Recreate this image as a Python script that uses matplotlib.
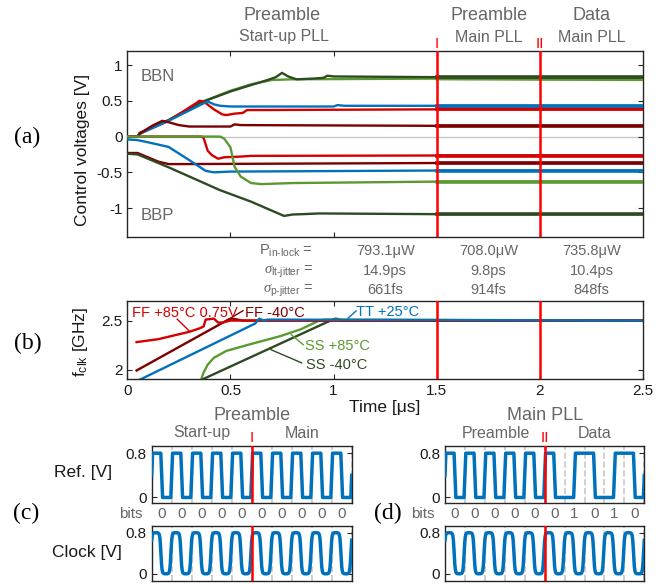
import numpy as np
import matplotlib
matplotlib.use("Agg")
import matplotlib.pyplot as plt

plt.rcParams['font.family'] = ['Liberation Sans', 'DejaVu Sans']
plt.rcParams['mathtext.fontset'] = 'custom'
plt.rcParams['mathtext.rm'] = 'Liberation Sans'
plt.rcParams['mathtext.it'] = 'Liberation Serif:italic'
plt.rcParams['axes.unicode_minus'] = False

W, H = 670, 584

# ---- data ------------------------------------------------------------------
# (a) control voltages, start-up PLL phase (t in us, V); flat levels after 1.5 us
bbn_dgreen_t = [0, 0.05, 0.06, 0.2, 0.35, 0.5, 0.6, 0.68, 0.72, 0.75, 0.78, 0.82, 0.9, 0.95, 0.97, 1.0, 1.5, 2.5]
bbn_dgreen_v = [0, 0, 0.05, 0.23, 0.47, 0.63, 0.72, 0.79, 0.83, 0.89, 0.84, 0.80, 0.81, 0.82, 0.85, 0.84, 0.83, 0.83]
bbn_green_t = [0, 0.05, 0.06, 0.2, 0.35, 0.5, 0.6, 0.7, 0.8, 1.5, 2.5]
bbn_green_v = [0, 0, 0.05, 0.23, 0.47, 0.64, 0.73, 0.79, 0.80, 0.81, 0.80]
bbn_blue_t = [0, 0.05, 0.06, 0.2, 0.36, 0.39, 0.42, 0.45, 0.5, 1.0, 1.02, 1.05, 1.5, 2.5]
bbn_blue_v = [0, 0, 0.04, 0.22, 0.45, 0.49, 0.45, 0.43, 0.42, 0.42, 0.44, 0.43, 0.43, 0.43]
bbn_red_t = [0, 0.05, 0.06, 0.2, 0.33, 0.35, 0.37, 0.42, 0.46, 0.48, 0.52, 0.56, 0.58, 1.5, 2.5]
bbn_red_v = [0, 0, 0.04, 0.22, 0.46, 0.50, 0.49, 0.38, 0.31, 0.30, 0.32, 0.33, 0.37, 0.38, 0.38]
bbn_dred_t = [0, 0.05, 0.06, 0.12, 0.17, 0.2, 0.25, 0.3, 0.5, 0.52, 0.55, 1.5, 2.5]
bbn_dred_v = [0, 0, 0.04, 0.15, 0.22, 0.2, 0.16, 0.14, 0.14, 0.17, 0.16, 0.15, 0.15]

bbp_red_t = [0, 0.36, 0.37, 0.39, 0.41, 0.44, 0.47, 0.55, 0.60, 1.5, 2.5]
bbp_red_v = [0, 0, -0.02, -0.2, -0.26, -0.31, -0.29, -0.28, -0.27, -0.265, -0.265]
bbp_dred_t = [0, 0.05, 0.1, 0.15, 0.2, 0.25, 1.5, 2.5]
bbp_dred_v = [-0.23, -0.23, -0.29, -0.35, -0.385, -0.385, -0.37, -0.37]
bbp_blue_t = [0, 0.05, 0.1, 0.2, 0.29, 0.38, 0.42, 0.5, 1.5, 2.5]
bbp_blue_v = [-0.04, -0.05, -0.08, -0.145, -0.31, -0.48, -0.50, -0.49, -0.475, -0.475]
bbp_green_t = [0, 0.45, 0.47, 0.50, 0.52, 0.55, 0.60, 0.65, 0.8, 1.5, 2.5]
bbp_green_v = [0, 0, -0.03, -0.15, -0.42, -0.56, -0.65, -0.665, -0.65, -0.63, -0.63]
bbp_dgreen_t = [0, 0.05, 0.2, 0.45, 0.6, 0.72, 0.76, 0.8, 0.85, 0.93, 1.5, 2.5]
bbp_dgreen_v = [-0.24, -0.25, -0.43, -0.75, -0.91, -1.06, -1.11, -1.09, -1.085, -1.075, -1.085, -1.085]

# (b) clock frequency (GHz) per corner
ff85_t = [0.045, 0.15, 0.25, 0.30, 0.35, 0.37, 0.38, 0.42, 0.44, 0.46, 0.50, 2.5]
ff85_f = [2.28, 2.31, 2.36, 2.385, 2.42, 2.44, 2.51, 2.52, 2.48, 2.48, 2.50, 2.50]
ff40_t = [0.045, 0.49, 0.51, 0.56, 2.5]
ff40_f = [1.99, 2.51, 2.52, 2.50, 2.50]
tt25_t = [0.05, 0.62, 0.64, 0.66, 0.68, 2.5]
tt25_f = [1.885, 2.47, 2.52, 2.50, 2.51, 2.50]
ss85_t = [0.355, 0.37, 0.39, 0.42, 0.48, 0.59, 0.74, 0.84, 0.93, 0.96, 2.5]
ss85_f = [1.88, 1.97, 2.05, 2.12, 2.19, 2.255, 2.34, 2.41, 2.50, 2.51, 2.50]
ss40_t = [0.36, 0.995, 1.01, 1.05, 2.5]
ss40_f = [1.895, 2.51, 2.52, 2.50, 2.50]

# table between (a) and (b)
phase_centers = [1.25, 1.75, 2.25]
p_inlock = ['793.1\u03bcW', '708.0\u03bcW', '735.8\u03bcW']
lt_jitter = ['14.9ps', '9.8ps', '10.4ps']
p_jitter = ['661fs', '914fs', '848fs']

# (c), (d) bits
bits_c = [0, 0, 0, 0, 0, 0, 0, 0, 0, 0]
bits_d = [0, 0, 0, 0, 0, 0, 1, 0, 1, 0]

C_BLUE = '#0072BD'
C_RED = '#D40000'
C_DRED = '#7D0000'
C_GREEN = '#5B9A32'
C_DGREEN = '#2E4A22'
GRAY = '#666666'
SPINE = '#262626'

fig = plt.figure(figsize=(W / 100, H / 100), dpi=100)


def px_axes(l, t, r, b):
    return fig.add_axes([l / W, 1 - b / H, (r - l) / W, (b - t) / H])


def ftext(x, y, s, **kw):
    kw.setdefault('ha', 'center')
    kw.setdefault('va', 'center')
    return fig.text(x / W, 1 - y / H, s, **kw)


def style(ax):
    for sp in ax.spines.values():
        sp.set_color(SPINE)
        sp.set_linewidth(1.0)
    ax.tick_params(direction='in', top=True, right=True, length=3.5, width=0.8,
                   colors=SPINE, labelsize=11, labelcolor='#1a1a1a')


# ---- (a) -------------------------------------------------------------------
ax_a = px_axes(127.3, 50.7, 643, 236.7)
style(ax_a)
ax_a.axhline(0, color='#c8c8c8', lw=1.0, zorder=1)
curves_a = [
    (bbn_green_t, bbn_green_v, C_GREEN), (bbn_dgreen_t, bbn_dgreen_v, C_DGREEN),
    (bbn_red_t, bbn_red_v, C_RED), (bbn_blue_t, bbn_blue_v, C_BLUE),
    (bbn_dred_t, bbn_dred_v, C_DRED),
    (bbp_red_t, bbp_red_v, C_RED), (bbp_dred_t, bbp_dred_v, C_DRED),
    (bbp_blue_t, bbp_blue_v, C_BLUE), (bbp_green_t, bbp_green_v, C_GREEN),
    (bbp_dgreen_t, bbp_dgreen_v, C_DGREEN),
]
for t, v, c in curves_a:
    ax_a.plot(t, v, color=c, lw=1.7, zorder=3)
    t = np.asarray(t)
    v = np.asarray(v)
    m = t >= 1.5
    ax_a.plot(t[m], v[m], color=c, lw=2.6, zorder=3)
ax_a.axvline(1.5, color='#FF0000', lw=1.8, zorder=5)
ax_a.axvline(2.0, color='#FF0000', lw=1.8, zorder=5)
ax_a.set_xlim(0, 2.5)
ax_a.set_ylim(-1.4, 1.2)
ax_a.set_xticks([0.5, 1, 1.5, 2])
ax_a.set_xticklabels([])
ax_a.set_yticks([-1, -0.5, 0, 0.5, 1])
ax_a.set_yticklabels(['-1', '-0.5', '0', '0.5', '1'])
ax_a.text(0.065, 0.84, 'BBN', color=GRAY, fontsize=12, ha='left', va='center')
ax_a.text(0.065, -1.10, 'BBP', color=GRAY, fontsize=12, ha='left', va='center')
ftext(82, 150, 'Control voltages [V]', rotation=90, fontsize=12.5, color='#1a1a1a')
ftext(27, 137, '(a)', family='Liberation Serif', fontsize=17)

# phase headings
ftext(282, 16, 'Preamble', color=GRAY, fontsize=13)
ftext(284, 37, 'Start-up PLL', color=GRAY, fontsize=11.5)
ftext(489, 16, 'Preamble', color=GRAY, fontsize=13)
ftext(489, 37, 'Main PLL', color=GRAY, fontsize=11.5)
ftext(592, 16, 'Data', color=GRAY, fontsize=13)
ftext(592, 37, 'Main PLL', color=GRAY, fontsize=11.5)
ftext(437, 44, 'I', color='#FF0000', fontsize=11)
ftext(540, 44, 'II', color='#FF0000', fontsize=11)

# table
row_y = [251, 271, 290]
ftext(313, row_y[0], r'P$_{\mathrm{in\text{-}lock}}$ =', color=GRAY, fontsize=10.5, ha='right')
ftext(313, row_y[1], r'$\sigma_{\mathrm{lt\text{-}jitter}}$ =', color=GRAY, fontsize=10.5, ha='right')
ftext(313, row_y[2], r'$\sigma_{\mathrm{p\text{-}jitter}}$ =', color=GRAY, fontsize=10.5, ha='right')
for xc, a, b, c in zip(phase_centers, p_inlock, lt_jitter, p_jitter):
    xp = 127.3 + xc / 2.5 * (643 - 127.3)
    ftext(xp, row_y[0], a, color=GRAY, fontsize=10.5)
    ftext(xp, row_y[1], b, color=GRAY, fontsize=10.5)
    ftext(xp, row_y[2], c, color=GRAY, fontsize=10.5)

# ---- (b) -------------------------------------------------------------------
ax_b = px_axes(127.3, 301, 643, 379.3)
style(ax_b)
ax_b.plot(ss40_t, ss40_f, color=C_DGREEN, lw=1.7)
ax_b.plot(ss85_t, ss85_f, color=C_GREEN, lw=1.7)
ax_b.plot(ff40_t, ff40_f, color=C_DRED, lw=1.7)
ax_b.plot(ff85_t, ff85_f, color=C_RED, lw=1.7)
ax_b.plot(tt25_t, tt25_f, color=C_BLUE, lw=1.7)
ax_b.axvline(1.5, color='#FF0000', lw=1.8, zorder=5)
ax_b.axvline(2.0, color='#FF0000', lw=1.8, zorder=5)
ax_b.set_xlim(0, 2.5)
ax_b.set_ylim(1.9, 2.7)
ax_b.set_xticks([0, 0.5, 1, 1.5, 2, 2.5])
ax_b.set_xticklabels(['0', '0.5', '1', '1.5', '2', '2.5'])
ax_b.set_yticks([2, 2.5])
ax_b.set_yticklabels(['2', '2.5'])
ax_b.set_xlabel('Time [\u03bcs]', fontsize=12.5, labelpad=1, color='#1a1a1a')
ftext(80, 342, r'f$_{\mathrm{clk}}$ [GHz]', rotation=90, fontsize=12.5, color='#1a1a1a')
ftext(28, 343, '(b)', family='Liberation Serif', fontsize=17)

labels_b = [
    ('FF +85\u00b0C 0.75V', C_RED, (0.021, 2.581), (0.242, 2.514), (0.303, 2.388)),
    ('FF -40\u00b0C', C_DRED, (0.570, 2.581), (0.561, 2.601), (0.486, 2.507)),
    ('TT +25\u00b0C', C_BLUE, (1.109, 2.591), (1.109, 2.598), (1.070, 2.524)),
    ('SS +85\u00b0C', C_GREEN, (0.863, 2.236), (0.853, 2.254), (0.795, 2.355)),
    ('SS -40\u00b0C', C_DGREEN, (0.868, 2.041), (0.845, 2.068), (0.696, 2.203)),
]
for s, c, pos, p0, p1 in labels_b:
    ax_b.text(pos[0], pos[1], s, color=c, fontsize=10.5, ha='left', va='center')
    ax_b.plot([p0[0], p1[0]], [p0[1], p1[1]], color=c, lw=1.0)


# ---- (c), (d) ---------------------------------------------------------------
def manchester(bits, edge=0.09):
    levels = []
    for b in bits:
        levels += [1, 0] if b == 0 else [0, 1]
    t, v = [0.0], [0.5]
    for j, lv in enumerate(levels):
        t += [j * 0.5 + edge / 2, (j + 1) * 0.5 - edge / 2]
        v += [lv, lv]
    t.append(len(bits))
    v.append(0.5)
    return np.array(t), np.array(v) * 0.8


def clock_wave(n):
    t = np.linspace(0, n, 1200)
    v = 0.4 + 0.4 * np.tanh(3.0 * np.sin(2 * np.pi * (t + 0.04))) / np.tanh(3.0)
    return t, v


def wave_axes(l, t, r, b, x, y, ylo):
    ax = px_axes(l, t, r, b)
    style(ax)
    ax.plot(x, y, color=C_BLUE, lw=2.5, zorder=3)
    ax.axvline(5, color='#FF0000', lw=1.8, zorder=5)
    ax.set_xlim(0, 10)
    ax.set_ylim(ylo, 0.93)
    ax.set_xticks(range(0, 11))
    ax.tick_params(axis='x', length=0, labelbottom=False)
    ax.grid(axis='x', color='#c8c8c8', linestyle='--', lw=1.2, zorder=1)
    ax.set_yticks([0, 0.8])
    ax.set_yticklabels(['0', '0.8'])
    return ax


for bits, (l, r), marker in [(bits_c, (151.7, 351.7), 'I'), (bits_d, (445, 644.3), 'II')]:
    rt, rv = manchester(bits)
    wave_axes(l, 446, r, 503, rt, rv, -0.1)
    ct, cv = clock_wave(len(bits))
    wave_axes(l, 526, r, 581, ct, cv, -0.14)
    bw = (r - l) / len(bits)
    for i, b in enumerate(bits):
        ftext(l + bw * (i + 0.5), 514, str(b), color=GRAY, fontsize=11)
    ftext((l + r) / 2, 438, marker, color='#FF0000', fontsize=11)

ftext(131, 514, 'bits', color=GRAY, fontsize=11)
ftext(423, 514, 'bits', color=GRAY, fontsize=11)
ftext(83, 473, 'Ref. [V]', fontsize=12.5, color='#1a1a1a')
ftext(87, 553, 'Clock [V]', fontsize=12.5, color='#1a1a1a')
ftext(26, 513, '(c)', family='Liberation Serif', fontsize=17)
ftext(388, 513, '(d)', family='Liberation Serif', fontsize=17)

ftext(252, 415, 'Preamble', color=GRAY, fontsize=13)
ftext(202, 433, 'Start-up', color=GRAY, fontsize=11.5)
ftext(302, 433, 'Main', color=GRAY, fontsize=11.5)
ftext(545, 415, 'Main PLL', color=GRAY, fontsize=13)
ftext(496, 433, 'Preamble', color=GRAY, fontsize=11.5)
ftext(595, 433, 'Data', color=GRAY, fontsize=11.5)

fig.savefig('out.png', dpi=100)
plt.close(fig)
